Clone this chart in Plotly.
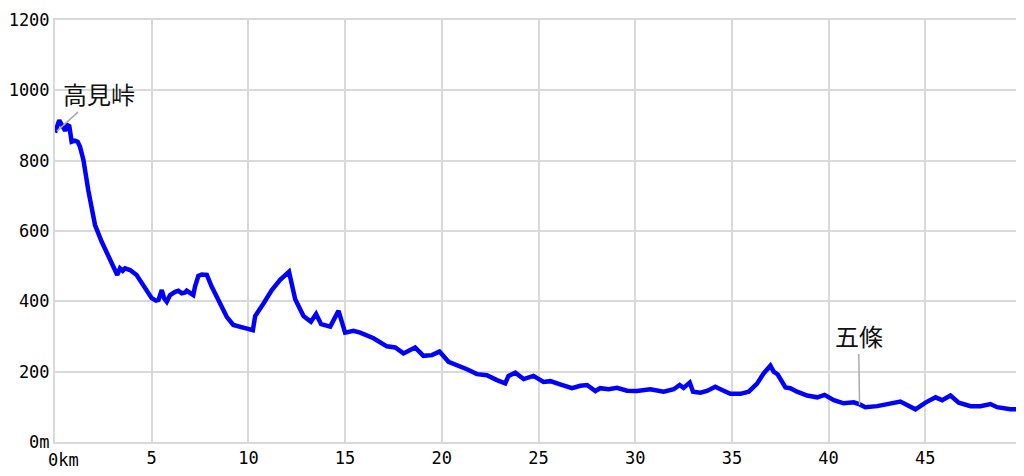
import plotly.graph_objects as go

dist_km = [0.0, 0.22, 0.52, 0.64, 0.74, 0.86, 1.03, 1.17, 1.29, 1.47, 1.72, 2.07, 2.41, 2.85, 3.22,
           3.36, 3.50, 3.62, 3.88, 4.22, 4.57, 5.0, 5.22, 5.35, 5.52, 5.64, 5.78, 5.95, 6.21, 6.38,
           6.55, 6.73, 6.81, 6.98, 7.15, 7.24, 7.41, 7.59, 7.85, 8.10, 8.54, 8.88, 9.22, 9.57, 9.88,
           10.23, 10.35, 10.78, 11.21, 11.64, 11.90, 12.10, 12.42, 12.85, 13.23, 13.50, 13.76, 14.23,
           14.66, 15.0, 15.43, 15.78, 16.47, 16.81, 17.16, 17.59, 18.02, 18.62, 19.05, 19.49, 19.88,
           20.35, 20.78, 21.30, 21.82, 22.33, 22.85, 23.28, 23.45, 23.80, 24.23, 24.74, 25.26, 25.61,
           26.12, 26.73, 27.16, 27.51, 27.94, 28.19, 28.62, 29.06, 29.58, 30.09, 30.78, 31.47, 31.99,
           32.30, 32.50, 32.82, 32.99, 33.37, 33.71, 34.14, 34.49, 34.92, 35.44, 35.87, 36.30, 36.64,
           36.99, 37.16, 37.37, 37.59, 37.77, 38.02, 38.37, 38.89, 39.41, 39.79, 40.27, 40.78, 41.30,
           41.61, 41.90, 42.51, 43.11, 43.71, 44.49, 45.01, 45.53, 45.87, 46.30, 46.73, 47.34, 47.85,
           48.37, 48.71, 49.40, 49.84, 50.0]
elev_m = [880, 915, 885, 901, 898, 854, 857, 854, 840, 802, 716, 617, 570, 518, 475,
          494, 487, 494, 489, 475, 446, 409, 402, 404, 432, 409, 399, 418, 427, 430,
          423, 425, 430, 423, 418, 442, 472, 476, 475, 442, 390, 356, 333, 326, 323,
          318, 358, 394, 432, 461, 475, 484, 406, 358, 342, 364, 335, 328,
          373, 311, 316, 311, 295, 282, 272, 269, 252, 269, 245, 247, 257,
          228, 219, 207, 193, 190, 176, 167, 188, 197, 179, 188, 171, 173,
          164, 153, 160, 162, 145, 153, 150, 154, 146, 145, 150, 143, 150,
          162, 154, 169, 143, 140, 145, 157, 148, 137, 137, 143, 166, 195,
          217, 200, 192, 169, 155, 153, 143, 132, 127, 134, 119, 110, 113,
          107, 99, 102, 110, 115, 93, 112, 127, 119, 132, 112, 102, 102,
          108, 99, 93, 91, 93]

x_ticks = [0, 5, 10, 15, 20, 25, 30, 35, 40, 45]
x_labels = ["", "5", "10", "15", "20", "25", "30", "35", "40", "45"]
x_first_label = "0km"
y_ticks = [0, 200, 400, 600, 800, 1000, 1200]
y_labels = ["0m", "200", "400", "600", "800", "1000", "1200"]

grid = "#d9d9d9"
tick_font = dict(family="DejaVu Sans Mono", size=17, color="#000000")
label_font = dict(family="Noto Sans CJK JP", size=24, color="#111111")

fig = go.Figure()
fig.add_trace(go.Scatter(x=dist_km, y=elev_m, mode="lines",
                         line=dict(color="#0000ff", width=4.5), hoverinfo="skip"))

fig.add_annotation(x=0.1, y=884, text="高見峠", showarrow=True, arrowhead=0,
                   arrowwidth=1.5, arrowcolor="#aaaaaa", ax=42, ay=-38, font=label_font)
fig.add_annotation(x=41.6, y=105, text="五條", showarrow=True, arrowhead=0,
                   arrowwidth=1.5, arrowcolor="#aaaaaa", ax=-1, ay=-70, font=label_font)
fig.add_annotation(x=0, xref="x", y=0, yref="paper", text=x_first_label,
                   showarrow=False, xanchor="left", yanchor="top",
                   xshift=-9, yshift=-6, font=tick_font)

# page body has an 8px margin, so the figure is sized/offset to land the plot at 55..1022 x 20..442
fig.update_layout(
    width=1016, height=468,
    margin=dict(l=47, r=2, t=12, b=34),
    paper_bgcolor="white", plot_bgcolor="white",
    showlegend=False,
    xaxis=dict(range=[0, 50], tickvals=x_ticks, ticktext=x_labels, automargin=False,
               showgrid=True, gridcolor=grid, gridwidth=2,
               showline=True, linecolor=grid, linewidth=2, mirror=True,
               zeroline=False, ticks="", tickfont=tick_font),
    yaxis=dict(range=[0, 1200], tickvals=y_ticks, ticktext=y_labels, automargin=False,
               showgrid=True, gridcolor=grid, gridwidth=2,
               showline=True, linecolor=grid, linewidth=2, mirror=True,
               zeroline=False, ticks="", tickfont=tick_font),
)

fig.write_html("out.html")
